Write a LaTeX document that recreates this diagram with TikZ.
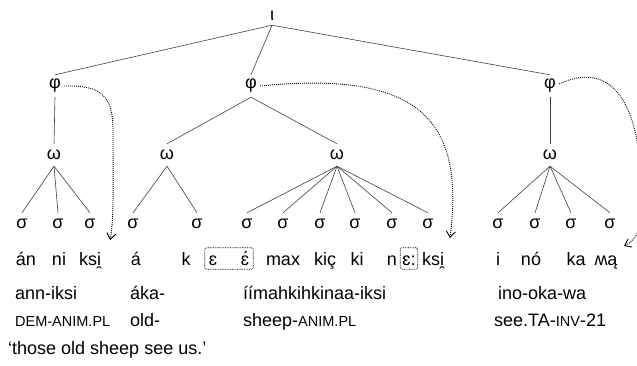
\documentclass[tikz,border=0pt]{standalone}
\usepackage{fontspec}
\setmainfont{Liberation Sans}
\usetikzlibrary{arrows.meta,fit}
% small capitals imitated with reduced upper-case letters
\newcommand\smc[1]{{\fontsize{14.5pt}{14.5pt}\selectfont #1}}
\begin{document}
\begin{tikzpicture}[x=1pt,y=-1pt,
  font=\fontsize{18pt}{18pt}\selectfont,
  sym/.style={inner sep=0pt, minimum height=22pt},
  treeline/.style={line width=0.6pt, black!75},
  syl/.style={anchor=base, inner sep=0pt, text height=15pt, text depth=2pt},
  gloss/.style={anchor=base west, inner sep=0pt},
  dotarrow/.style={line width=0.9pt, dash pattern=on 0.9pt off 1.1pt,
    -{Straight Barb[length=6pt,width=9pt]}},
  vbox/.style={draw, line width=0.7pt, dash pattern=on 0.8pt off 0.9pt,
    rounded corners=2pt, inner ysep=2pt}
]
\useasboundingbox (0,0) rectangle (637,365);

% prosodic hierarchy
\node[sym, minimum height=18pt] (iota) at (272,16) {ι};
\node[sym] (phiA) at (55,86) {φ};
\node[sym] (phiB) at (251,86) {φ};
\node[sym] (phiC) at (550,86) {φ};
\node[sym] (omA) at (54,155) {ω};
\node[sym] (omB) at (167,155) {ω};
\node[sym] (omC) at (337,155) {ω};
\node[sym] (omD) at (550,155) {ω};

\foreach \n/\x in {A1/22,A2/58,A3/90,B1/133,B2/197,C1/247,C2/283,C3/320,
                   C4/355,C5/392,C6/428,D1/498,D2/535,D3/571,D4/610}
  \node[sym] (s\n) at (\x,224) {σ};

\draw[treeline] (iota.south) -- (phiA.north);
\draw[treeline] (iota.south) -- (phiB.north);
\draw[treeline] (iota.south) -- (phiC.north);
\draw[treeline] (phiA.south) -- (omA.north);
\draw[treeline] (phiB.south) -- (omB.north);
\draw[treeline] (phiB.south) -- (omC.north);
\draw[treeline] (phiC.south) -- (omD.north);
\foreach \n in {A1,A2,A3} \draw[treeline] (omA.south) -- (s\n.north);
\foreach \n in {B1,B2} \draw[treeline] (omB.south) -- (s\n.north);
\foreach \n in {C1,C2,C3,C4,C5,C6} \draw[treeline] (omC.south) -- (s\n.north);
\foreach \n in {D1,D2,D3,D4} \draw[treeline] (omD.south) -- (s\n.north);

% syllables
\node[syl] (tA1) at (26,265) {án};
\node[syl] (tA2) at (59,265) {ni};
\node[syl] (tA3) at (90,265) {ksi̯};
\node[syl] (tB1) at (136,265) {á};
\node[syl] (tB2) at (186,265) {k};
\node[syl] (eA) at (213,265) {ɛ};
\node[syl] (eB) at (245,265) {ɛ́};
\node[syl] (tC2) at (283,265) {max};
\node[syl] (tC3) at (325,265) {kiç};
\node[syl] (tC4) at (357,265) {ki};
\node[syl] (tC5) at (392,265) {n};
\node[syl] (eC) at (409,265) {ɛ:};
\node[syl] (tC6) at (433,265) {ksi̯};
\node[syl] (tD1) at (498,265) {i};
\node[syl] (tD2) at (531,265) {nó};
\node[syl] (tD3) at (576,265) {ka};
\node[syl] (tD4) at (606,265) {ʍą};

\node[vbox, inner xsep=4pt, fit=(eA)(eB)] (boxA) {};
\node[vbox, inner xsep=2pt, fit=(eC)] (boxB) {};

% glosses
\node[gloss] (wA) at (15,299) {ann-iksi};
\node[gloss] (wB) at (130,299) {áka-};
\node[gloss] (wC) at (243,299) {íímahkihkinaa-iksi};
\node[gloss] (wD) at (498,299) {ino-oka-wa};
\node[gloss] (gA) at (15,326) {\smc{DEM-ANIM.PL}};
\node[gloss] (gB) at (130,326) {old-};
\node[gloss] (gC) at (243,326) {sheep-\smc{ANIM.PL}};
\node[gloss] (gD) at (494,326) {see.TA-\smc{INV}-21};
\node[gloss] (tr) at (8,354) {‘those old sheep see us.’};

% dotted links
\coordinate (endA) at (110,240);
\coordinate (endB) at (450,238);
\coordinate (endC) at (624,246);
\draw[dotarrow] ([xshift=3pt]phiA.east) .. controls (100,85) and (113,95) .. (113,130)
  .. controls (113,190) and (114,220) .. (endA);
\draw[dotarrow] ([xshift=3pt]phiB.east) .. controls (420,70) and (465,120) .. (endB);
\draw[dotarrow] ([xshift=3pt,yshift=2pt]phiC.east) .. controls (615,58) and (640,110) .. (641,185)
  .. controls (642,225) and (640,238) .. (endC);
\end{tikzpicture}
\end{document}
